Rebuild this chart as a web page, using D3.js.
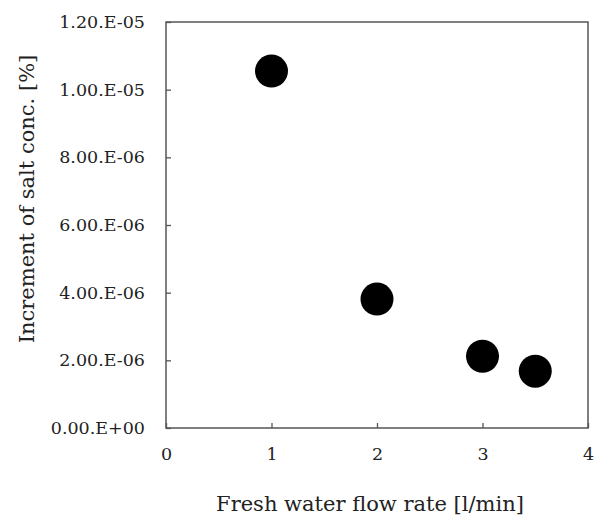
<!DOCTYPE html>
<html>
<head>
<meta charset="utf-8">
<script src="https://cdn.jsdelivr.net/npm/d3@7"></script>
<style>
  body { margin: 0; background: #fff; }
  svg text { font-family: "DejaVu Serif", "Liberation Serif", serif; fill: #222; }
</style>
</head>
<body>
<svg width="595" height="517"></svg>
<script>
const flowRate = [1, 2, 3, 3.5];
const saltIncrement = [1.055e-5, 3.81e-6, 2.12e-6, 1.68e-6];
const xTicks = [0, 1, 2, 3, 4];
const yTicks = [0, 2e-6, 4e-6, 6e-6, 8e-6, 1e-5, 1.2e-5];
const yTickLabels = ['0.00.E+00', '2.00.E-06', '4.00.E-06', '6.00.E-06', '8.00.E-06', '1.00.E-05', '1.20.E-05'];

const svg = d3.select('svg');
const margin = {top: 22, right: 7, bottom: 89, left: 166};
const width = +svg.attr('width');
const height = +svg.attr('height');
const innerWidth = width - margin.left - margin.right;
const innerHeight = height - margin.top - margin.bottom;

const xScale = d3.scaleLinear().domain([0, 4]).range([0, innerWidth]);
const yScale = d3.scaleLinear().domain([0, 1.2e-5]).range([innerHeight, 0]);

const g = svg.append('g')
    .attr('transform', `translate(${margin.left}, ${margin.top})`);

// frame
g.append('rect')
    .attr('width', innerWidth)
    .attr('height', innerHeight)
    .attr('fill', 'none')
    .attr('stroke', '#555')
    .attr('stroke-width', 1.5);

const xAxis = d3.axisBottom(xScale)
    .tickValues(xTicks)
    .tickSize(-5)
    .tickPadding(20)
    .tickFormat(d3.format('d'));

const xAxisG = g.append('g')
    .attr('transform', `translate(0, ${innerHeight})`)
    .call(xAxis);
xAxisG.select('.domain').remove();
xAxisG.selectAll('line').attr('stroke', '#555').attr('stroke-width', 1.3);
xAxisG.selectAll('text')
    .attr('font-size', 17.5)
    .attr('fill', '#222');

const yAxis = d3.axisLeft(yScale)
    .tickValues(yTicks)
    .tickSize(-5)
    .tickPadding(21)
    .tickFormat((d, i) => yTickLabels[i]);

const yAxisG = g.append('g').call(yAxis);
yAxisG.select('.domain').remove();
yAxisG.selectAll('line').attr('stroke', '#555').attr('stroke-width', 1.3);
yAxisG.selectAll('text')
    .attr('font-size', 17.5)
    .attr('fill', '#222');
g.selectAll('.tick text').style('font-family', '"DejaVu Serif", serif');

g.selectAll('circle').data(flowRate)
    .enter().append('circle')
    .attr('cx', d => xScale(d))
    .attr('cy', (d, i) => yScale(saltIncrement[i]))
    .attr('r', 16.5)
    .attr('fill', '#000');

svg.append('text')
    .attr('x', 370)
    .attr('y', 511)
    .attr('text-anchor', 'middle')
    .attr('font-size', 21)
    .text('Fresh water flow rate [l/min]');

svg.append('text')
    .attr('transform', `translate(34, 199) rotate(-90)`)
    .attr('text-anchor', 'middle')
    .attr('font-size', 21)
    .text('Increment of salt conc. [%]');
</script>
</body>
</html>
